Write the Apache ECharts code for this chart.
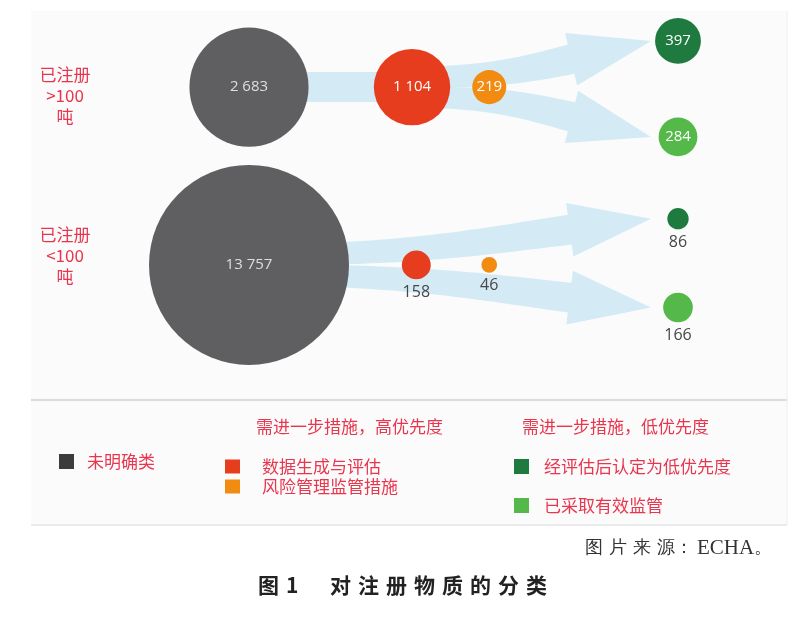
<!DOCTYPE html>
<html>
<head>
<meta charset="utf-8">
<script src="https://cdn.jsdelivr.net/npm/echarts@6/dist/echarts.min.js"></script>
<style>
  html, body { margin: 0; padding: 0; background: #fff; }
  #main { width: 793px; height: 623px; }
</style>
</head>
<body>
<div id="main"></div>
<script>
"use strict";
// rows (tonnage bands) and categories
var rows = ['已注册\n>100\n吨', '已注册\n<100\n吨'];
var categories = ['未明确类', '数据生成与评估', '风险管理监管措施', '经评估后认定为低优先度', '已采取有效监管'];
var colors = ['#5f5f61', '#e63d1f', '#f18b12', '#1e7a3f', '#55b94a'];

// number of substances, [>100 t, <100 t]
var unclassified = [2683, 13757];
var dataGeneration = [1104, 158];
var riskManagement = [219, 46];
var lowPriority = [397, 86];
var regulated = [284, 166];
var values = [unclassified, dataGeneration, riskManagement, lowPriority, regulated];

// stage along the flow (x) and vertical position (y, row 0 / row 10)
var stageX = [[0, 0], [3.8, 3.9], [5.6, 5.6], [10, 10], [10, 10]];
var stageY = [[0, 10], [0, 10], [0, 10], [-2.6, 7.4], [2.8, 12.4]];

// flows: [fromCategory, toCategory, row, kind] kind 0 = band, 1 = arrow
var flows = [[0, 1, 0, 0], [1, 3, 0, 1], [1, 4, 0, 1], [0, 3, 1, 1], [0, 4, 1, 1]];

var red = '#e8364f';
var flowColor = '#d4ebf6';

function bubbleSize(v) {
    return Math.min(2.3 * Math.sqrt(v), 200);
}

function fmt(v) {
    return String(v).replace(/\B(?=(\d{3})+(?!\d))/g, ' ');
}

var chart = echarts.init(document.getElementById('main'));

var scatterSeries = categories.map(function (name, c) {
    return {
        name: name, type: 'scatter', z: 3,
        itemStyle: {color: colors[c], opacity: 1},
        symbolSize: function (val) { return bubbleSize(val[2]); },
        data: values[c].map(function (v, r) {
            var inside = bubbleSize(v) >= 33;
            return {
                value: [stageX[c][r], stageY[c][r], v],
                label: {
                    show: true, position: inside ? 'inside' : 'bottom', distance: 5,
                    formatter: function (p) { return fmt(p.value[2]); },
                    color: inside ? (c === 0 ? '#dedede' : '#fff') : '#474747',
                    fontSize: inside ? 15 : 16, fontFamily: 'Open Sans'
                }
            };
        })
    };
});

var flowData = flows.map(function (f) {
    var r = f[2];
    return [stageX[f[0]][r], stageY[f[0]][r], stageX[f[1]][r], stageY[f[1]][r], f[3]];
});

function renderFlow(params, api) {
    var s = api.coord([api.value(0), api.value(1)]);
    var t = api.coord([api.value(2), api.value(3)]);
    var kind = api.value(4);
    var pts = [];
    if (kind === 0) {
        var hb = 15;
        pts = [[s[0], s[1] - hb], [t[0], t[1] - hb], [t[0], t[1] + hb], [s[0], s[1] + hb]];
    } else {
        var side = t[1] < s[1] ? -1 : 1;
        var w0 = 10, w1 = 15, hw = 27, L = 82;
        var tip = [t[0] - 27, t[1]];
        var S = [s[0], s[1] + side * w0];
        var ang = Math.atan2(tip[1] - S[1], tip[0] - S[0]) * 1.5;
        var d = [Math.cos(ang), Math.sin(ang)];
        var B = [tip[0] - L * d[0], tip[1] - L * d[1]];
        var span = B[0] - S[0];
        var C1 = [S[0] + span * 0.5, S[1]];
        var C2 = [B[0] - d[0] * span * 0.3, B[1] - d[1] * span * 0.3];
        var left = [], right = [], n = 40, nx = 0, ny = 0;
        for (var i = 0; i <= n; i++) {
            var u = i / n, m = 1 - u;
            var px = m * m * m * S[0] + 3 * m * m * u * C1[0] + 3 * m * u * u * C2[0] + u * u * u * B[0];
            var py = m * m * m * S[1] + 3 * m * m * u * C1[1] + 3 * m * u * u * C2[1] + u * u * u * B[1];
            var dx = 3 * m * m * (C1[0] - S[0]) + 6 * m * u * (C2[0] - C1[0]) + 3 * u * u * (B[0] - C2[0]);
            var dy = 3 * m * m * (C1[1] - S[1]) + 6 * m * u * (C2[1] - C1[1]) + 3 * u * u * (B[1] - C2[1]);
            var len = Math.sqrt(dx * dx + dy * dy) || 1;
            nx = -dy / len; ny = dx / len;
            var w = w0 + (w1 - w0) * u;
            left.push([px + nx * w, py + ny * w]);
            right.push([px - nx * w, py - ny * w]);
        }
        pts = left.concat([[B[0] + nx * hw, B[1] + ny * hw], tip, [B[0] - nx * hw, B[1] - ny * hw]], right.reverse());
    }
    return {type: 'polygon', shape: {points: pts}, style: {fill: flowColor}};
}

var legendText = {color: red, fontSize: 17, fontFamily: 'Noto Sans CJK SC'};

var option = {
    backgroundColor: '#fff',
    animation: false,
    graphic: [
        {type: 'rect', z: -10, shape: {x: 31, y: 11, width: 756, height: 514}, style: {fill: '#fbfbfb'}},
        {type: 'line', z: -9, shape: {x1: 31, y1: 400, x2: 787, y2: 400}, style: {stroke: '#dcdcdc', lineWidth: 2}},
        {type: 'line', z: -9, shape: {x1: 31, y1: 525, x2: 787, y2: 525}, style: {stroke: '#e4e4e4', lineWidth: 1.5}},
        {type: 'line', z: -9, shape: {x1: 787, y1: 11, x2: 787, y2: 525}, style: {stroke: '#eeeeee', lineWidth: 1}},
        {type: 'text', left: 256, top: 418, style: {text: '需进一步措施，高优先度', fill: red, fontSize: 17, fontFamily: 'Noto Sans CJK SC'}},
        {type: 'text', left: 522, top: 418, style: {text: '需进一步措施，低优先度', fill: red, fontSize: 17, fontFamily: 'Noto Sans CJK SC'}},
        {type: 'text', left: 585, top: 538, style: {
            text: '{c|图\u2004片\u2004来\u2004源：}{e|ECHA}{c|。}',
            rich: {
                c: {fill: '#333', fontSize: 18, fontFamily: 'Liberation Serif'},
                e: {fill: '#333', fontSize: 21, fontFamily: 'Liberation Serif', padding: [0, 0, 0, 4]}
            }
        }},
        {type: 'text', left: 258, top: 575, style: {text: '图\u20041\u2003\u2002对\u2004注\u2004册\u2004物\u2004质\u2004的\u2004分\u2004类', fill: '#222', fontSize: 21, fontWeight: 'bold', fontFamily: 'Noto Sans CJK SC'}}
    ],
    legend: [
        {data: [{name: categories[0], itemStyle: {color: '#3c3c3e'}}], left: 54, top: 448, icon: 'rect', itemWidth: 15, itemHeight: 15, selectedMode: false,
            textStyle: Object.assign({padding: [0, 0, 0, 8]}, legendText)},
        {data: [categories[1], categories[2]], orient: 'vertical', left: 220, top: 453, itemGap: 3, icon: 'rect',
            itemWidth: 15, itemHeight: 14, selectedMode: false,
            textStyle: Object.assign({padding: [0, 0, 0, 17]}, legendText)},
        {data: [categories[3], categories[4]], orient: 'vertical', left: 509, top: 453, itemGap: 22, icon: 'rect',
            itemWidth: 15, itemHeight: 15, selectedMode: false,
            textStyle: Object.assign({padding: [0, 0, 0, 10]}, legendText)}
    ],
    grid: {left: 249, right: 115, top: 16, height: 320},
    xAxis: {type: 'value', min: 0, max: 10, show: false},
    yAxis: {
        type: 'value', min: -4, max: 14, inverse: true,
        axisLine: {show: false}, axisTick: {show: false}, splitLine: {show: false},
        axisLabel: {
            show: true, customValues: [0.5, 9.5], margin: 184, align: 'center',
            formatter: function (v) { return v < 5 ? rows[0] : rows[1]; },
            color: red, fontSize: 17, lineHeight: 21, fontFamily: 'Noto Sans CJK SC'
        }
    },
    series: [{
        type: 'custom', z: 1, silent: true, clip: false,
        encode: {x: [0, 2], y: [1, 3]},
        renderItem: renderFlow,
        data: flowData
    }].concat(scatterSeries)
};

chart.setOption(option);
</script>
</body>
</html>
